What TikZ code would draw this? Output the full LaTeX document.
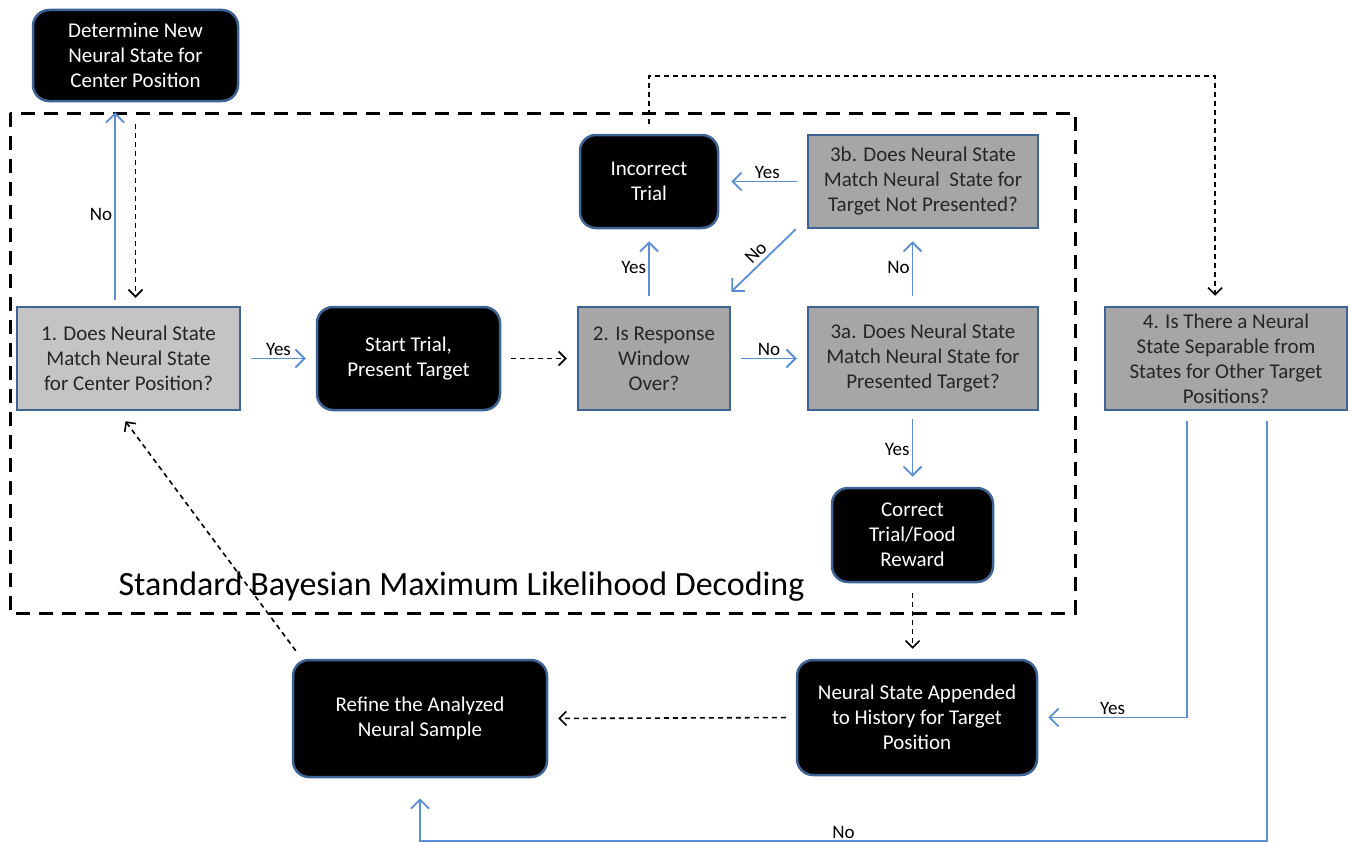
\documentclass[tikz,border=0pt]{standalone}
\usepackage{fontspec}
\setmainfont{Carlito}
\usetikzlibrary{arrows.meta,calc}
\definecolor{bord}{HTML}{3E6495}
\definecolor{connc}{HTML}{5B8ED6}
\definecolor{lgray}{HTML}{C4C4C4}
\definecolor{dgray}{HTML}{A6A6A6}
\definecolor{txt}{HTML}{262626}
\begin{document}
\begin{tikzpicture}[x=1pt,y=-1pt,
 gbox/.style={draw=bord, line width=2.5pt, fill=dgray, text=txt, align=center, inner sep=0pt, font=\fontsize{21}{25}\selectfont},
 bbox/.style={draw=bord, line width=2.5pt, fill=black, text=white, rounded corners=16pt, align=center, inner sep=0pt, font=\fontsize{21}{25}\selectfont},
 conn/.style={draw=connc, line width=1.8pt, -{Straight Barb[length=9pt,width=18pt]}},
 dconn/.style={draw=black, line width=1.6pt, dash pattern=on 5pt off 4pt, -{Straight Barb[length=7pt,width=14pt]}},
 lbl/.style={font=\fontsize{19}{21}\selectfont, inner sep=2pt, text=black}]
\useasboundingbox (0,0) rectangle (1350,843);
% frame
\draw[line width=3pt, dash pattern=on 14pt off 9pt] (10,113) rectangle (1075,613);
\node[font=\fontsize{34}{40}\selectfont, inner sep=0pt] (title) at (461.5,587) {Standard Bayesian Maximum Likelihood Decoding};
% nodes
\node[bbox, minimum width=205pt, minimum height=91pt] (det) at (135.5,55.5) {Determine New\\Neural State for\\Center Position};
\node[gbox, fill=lgray, minimum width=223pt, minimum height=103pt] (b1) at (128.5,358.5) {1. Does Neural State\\Match Neural State\\for Center Position?};
\node[bbox, minimum width=183pt, minimum height=103pt] (start) at (408.5,358.5) {Start Trial,\\Present Target};
\node[gbox, minimum width=152pt, minimum height=103pt] (b2) at (654,358.5) {2. Is Response\\Window\\Over?};
\node[gbox, minimum width=230pt, minimum height=103pt] (a3) at (923,358.5) {3a. Does Neural State\\Match Neural State for\\Presented Target?};
\node[bbox, minimum width=138pt, minimum height=93pt] (inc) at (649,181.5) {Incorrect\\Trial};
\node[gbox, minimum width=230pt, minimum height=93pt] (b3) at (923,181.5) {3b. Does Neural State\\Match Neural\ \ State for\\Target Not Presented?};
\node[gbox, minimum width=242pt, minimum height=103pt] (b4) at (1226,358.5) {4. Is There a Neural\\State Separable from\\States for Other Target\\Positions?};
\node[bbox, minimum width=161pt, minimum height=94pt] (cor) at (912.5,535) {Correct\\Trial/Food\\Reward};
\node[bbox, minimum width=254pt, minimum height=117pt] (ref) at (420,718.5) {Refine the Analyzed\\Neural Sample};
\node[bbox, minimum width=240pt, minimum height=115pt] (app) at (917,717.5) {Neural State Appended\\to History for Target\\Position};
% connectors
\draw[conn, shorten <=6pt, shorten >=10pt] ([xshift=-20.5pt]det.south |- b1.north) -- node[lbl, left, pos=0.45] {No} ([xshift=-20.5pt]det.south);
\draw[dconn, shorten <=22pt, shorten >=8pt] (det.south) -- (det.south |- b1.north);
\draw[conn, shorten <=10pt, shorten >=10pt] (b1.east) -- node[lbl, above] {Yes} (start.west);
\draw[dconn, shorten <=10pt, shorten >=10pt] (start.east) -- (b2.west);
\draw[conn, shorten <=10pt, shorten >=10pt] (b2.east) -- node[lbl, above] {No} (a3.west);
\draw[conn, shorten <=10pt, shorten >=12pt] (inc.south |- b2.north) -- node[lbl, left] {Yes} (inc.south);
\draw[conn, shorten <=10pt, shorten >=12pt] (cor.north |- a3.north) -- node[lbl, left] {No} (cor.north |- b3.south);
\draw[conn, shorten <=10pt, shorten >=12pt] (b3.west) -- node[lbl, above, pos=0.45] {Yes} (inc.east);
\draw[conn] ($(b3.south west)+(-11,0)$) -- node[lbl, rotate=45, anchor=south, pos=0.5, inner sep=4pt] {No} ($(b2.north east)+(0,-14)$);
\draw[conn, shorten <=8pt, shorten >=10pt] (cor.north |- a3.south) -- node[lbl, left] {Yes} (cor.north);
\draw[dconn, shorten <=10pt, shorten >=10pt] (cor.south) -- (cor.south |- app.north);
\draw[dconn, shorten <=10pt, shorten >=10pt] (app.west) -- (ref.east);
\draw[dconn] ($(ref.north west)+(4,-8)$) -- ($(b1.south)+(-3,10)$);
\draw[dconn, shorten <=10pt, shorten >=10pt] (inc.north) -- ++(0,-58) -| ($(b4.north)+(-11,0)$);
\draw[conn, shorten <=10pt, shorten >=10pt] ($(b4.south)+(-39,0)$) |- node[lbl, above, pos=0.75] {Yes} (app.east);
\draw[conn, shorten <=10pt, shorten >=20pt] ($(b4.south)+(41,0)$) -- ++(0,430) -| node[lbl, above, pos=0.25] {No} (ref.south);
\end{tikzpicture}
\end{document}
